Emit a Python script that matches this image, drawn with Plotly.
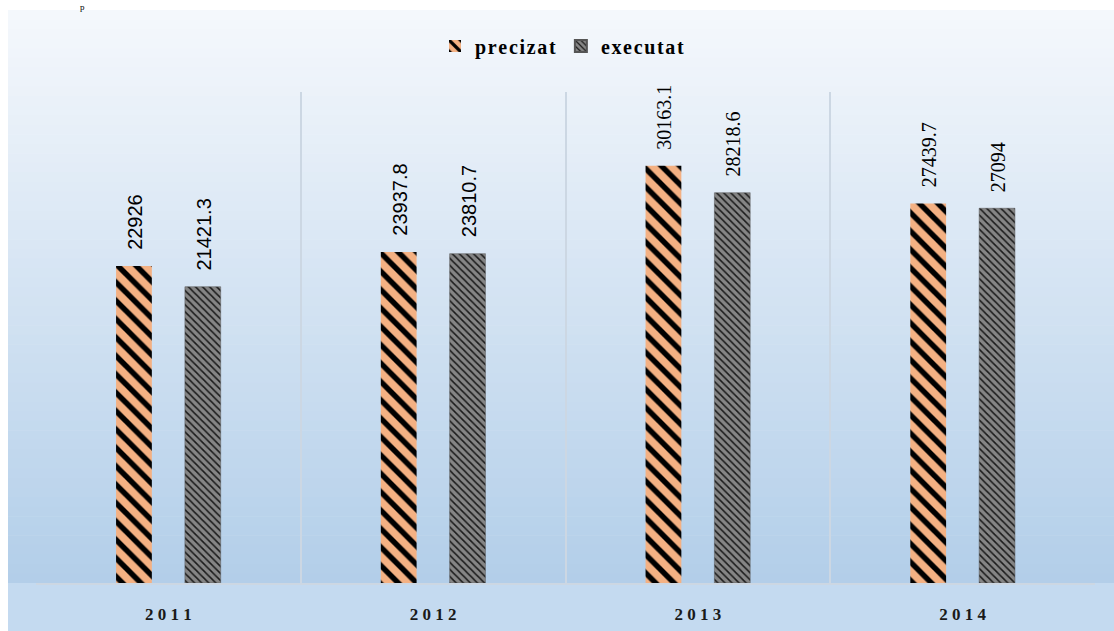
import plotly.graph_objects as go

years = ["2011", "2012", "2013", "2014"]
year_labels = ["2 0 1 1", "2 0 1 2", "2 0 1 3", "2 0 1 4"]
precizat = [22926, 23937.8, 30163.1, 27439.7]
executat = [21421.3, 23810.7, 28218.6, 27094]
series_names = ["precizat", "executat"]

W, H = 1114, 631
ML, MR, MT, MB = 36, 19, 92, 48
PW, PH = W - ML - MR, H - MT - MB

def px_x(x):
    return (x - ML) / PW

def px_y(y):
    return (H - MB - y) / PH

def spaced(s):
    return "\u200a".join(s)

fig = go.Figure()

fig.add_trace(go.Bar(
    x=years, y=precizat, name=spaced(series_names[0]),
    marker=dict(color="#f4b183", line=dict(width=0),
                pattern=dict(shape="\\", fgcolor="#000000", bgcolor="#f4b183",
                             size=13, solidity=0.42, fillmode="replace")),
))
fig.add_trace(go.Bar(
    x=years, y=executat, name=spaced(series_names[1]),
    marker=dict(color="#7f7f7f", line=dict(width=0.5, color="#555555"),
                pattern=dict(shape="\\", fgcolor="#1a1a1a", bgcolor="#858585",
                             size=5, solidity=0.3, fillmode="replace")),
))

# data labels (x given as category index so "2011" is not read as a number)
cat_w = PW / len(years)
bargap = 0.48
offset = (1 - bargap) * cat_w / 4
SANS = "Liberation Sans, Arial, sans-serif"
SERIF = "Liberation Serif, Times New Roman, serif"
label_fonts = [SANS, SANS, SERIF, SERIF]
annotations = []
for vals, sh in ((precizat, -offset), (executat, offset)):
    for i, v in enumerate(vals):
        annotations.append(dict(
            x=i, y=v, xref="x", yref="y", text=f"{v:g}", showarrow=False,
            textangle=-90, xanchor="center", yanchor="bottom",
            xshift=sh + 1, yshift=14,
            font=dict(family=label_fonts[i], size=20, color="#000000"),
        ))

# small caption glyph at top-left (cropped in the reference)
annotations.append(dict(
    x=px_x(82), y=px_y(0), xref="paper", yref="paper", text="p",
    showarrow=False, xanchor="center", yanchor="top",
    font=dict(family=SERIF, size=9, color="#000000"),
))

# background gradient (chart area)
shapes = []
top_c = (245, 248, 252)
bot_c = (178, 206, 233)
y_start, y_end = 10, H - MB
n = 60
for i in range(n):
    y0 = y_start + (y_end - y_start) * i / n
    y1 = y_start + (y_end - y_start) * (i + 1) / n + 0.6
    t = (i + 0.5) / n
    c = tuple(round(top_c[k] + (bot_c[k] - top_c[k]) * t) for k in range(3))
    shapes.append(dict(type="rect", xref="paper", yref="paper",
                       x0=px_x(8), x1=px_x(W + 2), y0=px_y(y1), y1=px_y(y0),
                       fillcolor=f"rgb{c}", line=dict(width=0), layer="below"))
shapes.append(dict(type="rect", xref="paper", yref="paper",
                   x0=px_x(8), x1=px_x(W + 2), y0=px_y(H + 2), y1=px_y(y_end),
                   fillcolor="rgb(196,218,240)", line=dict(width=0), layer="below"))

fig.update_layout(
    width=W, height=H,
    margin=dict(l=ML, r=MR, t=MT, b=MB, autoexpand=False),
    paper_bgcolor="#ffffff",
    plot_bgcolor="rgba(0,0,0,0)",
    barmode="group", bargap=bargap, bargroupgap=0.48,
    showlegend=True,
    legend=dict(orientation="h", x=px_x(562), xanchor="center",
                y=px_y(46), yanchor="middle",
                font=dict(family=SERIF, size=20, color="#000000", weight="bold"),
                bgcolor="rgba(0,0,0,0)", itemwidth=30, itemsizing="constant",
                tracegroupgap=0),
    xaxis=dict(
        type="category", range=[-0.5, len(years) - 0.5], automargin=False,
        tickmode="array", tickvals=years, ticktext=year_labels,
        tickson="boundaries", showgrid=True, gridcolor="#ccd7e3", gridwidth=1.5,
        showline=True, linecolor="#ccd7e3", linewidth=1.5,
        ticks="", ticklen=0, ticklabelstandoff=15,
        tickfont=dict(family=SERIF, size=17, color="#1a1a1a", weight="bold"),
        fixedrange=True,
    ),
    yaxis=dict(range=[0, 35500], showgrid=False, showticklabels=False,
               automargin=False,
               zeroline=False, showline=False, ticks="", fixedrange=True),
    annotations=annotations,
    shapes=shapes,
)

fig.write_html("out.html", config={"displayModeBar": False},
               post_script="document.body.style.margin='0px';")
